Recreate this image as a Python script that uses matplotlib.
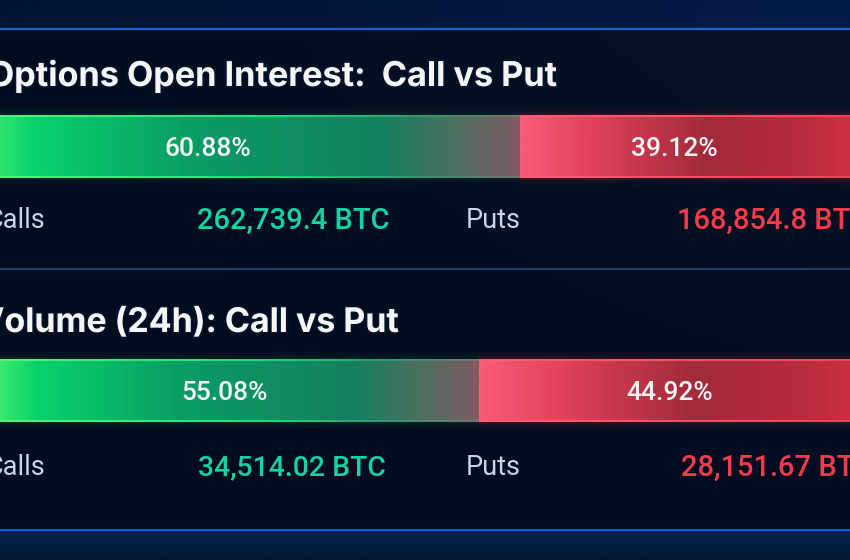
import matplotlib
matplotlib.use('Agg')
import matplotlib.pyplot as plt
import numpy as np
from matplotlib.colors import LinearSegmentedColormap, to_rgb
from matplotlib import patheffects

W, H = 850, 560

titles = ['Options Open Interest:  Call vs Put', 'Volume (24h): Call vs Put']
call_share = [60.88, 55.08]
put_share = [39.12, 44.92]
call_btc = ['262,739.4 BTC', '34,514.02 BTC']
put_btc = ['168,854.8 BTC', '28,151.67 BTC']

GREEN = [(0, '#55f06c'), (0.05, '#2ee36e'), (0.11, '#08d26c'), (0.4, '#0a9d64'),
         (0.75, '#14805f'), (0.88, '#4a7060'), (1, '#805c62')]
RED = [(0, '#f75c78'), (0.2, '#e2425a'), (0.53, '#a22a3a'), (0.8, '#b82c3e'), (1, '#d83244')]
GREEN_EDGE = [(0, '#5cf27a'), (0.55, '#18e07c'), (0.8, '#2f9a74'), (1, '#78706f')]
RED_EDGE = [(0, '#fb5f78'), (1, '#f5404f')]


def bar_image(stops, edge_stops, rows=62, cols=400):
    fill = LinearSegmentedColormap.from_list('f', stops)(np.linspace(0, 1, cols))[:, :3]
    edge = LinearSegmentedColormap.from_list('e', edge_stops)(np.linspace(0, 1, cols))[:, :3]
    img = np.repeat(fill[np.newaxis, :, :], rows, axis=0)
    img[:2] = edge
    img[-2:] = edge
    return img


def draw_bar(fig, call, put, split_px, y_px, bar_w=900, bar_h=63):
    # bar runs past both figure edges, axes placed so the split lands right
    x0 = split_px - call / 100 * bar_w
    ax = fig.add_axes([x0 / W, 1 - (y_px + bar_h) / H, bar_w / W, bar_h / H])
    ax.patch.set_alpha(0)
    ax.set_axis_off()
    left = ax.barh(0, call, height=1, color='none')[0]
    right = ax.barh(0, put, left=call, height=1, color='none')[0]
    im = ax.imshow(bar_image(GREEN, GREEN_EDGE), extent=(0, call, -0.5, 0.5),
                   aspect='auto', interpolation='bilinear')
    im.set_clip_path(left)
    im = ax.imshow(bar_image(RED, RED_EDGE), extent=(call, call + put, -0.5, 0.5),
                   aspect='auto', interpolation='bilinear')
    im.set_clip_path(right)
    ax.set_xlim(0, 100)
    ax.set_ylim(-0.5, 0.5)
    return ax


fig = plt.figure(figsize=(W / 100, H / 100), dpi=100, facecolor='#040e22')

bg = fig.add_axes([0, 0, 1, 1])
bg.set_xlim(0, W)
bg.set_ylim(H, 0)
bg.set_axis_off()

# dark panel, slightly lighter towards the upper right
yy, xx = np.mgrid[0:1:56j, 0:1:85j]
panel = np.zeros((56, 85, 3))
base = np.array(to_rgb('#030c1f'))
tint = np.array(to_rgb('#061226'))
panel[:] = base + (tint - base) * (xx * (1 - yy))[:, :, np.newaxis]
bg.imshow(panel, extent=(0, W, H, 0), aspect='auto', interpolation='bilinear')

# blue bands above and below the panel
top_band = LinearSegmentedColormap.from_list('t', ['#021231', '#021c48'])(np.linspace(0, 1, 85))[:, :3]
bg.imshow(top_band[np.newaxis, :, :], extent=(0, W, 29, 0), aspect='auto', interpolation='bilinear')
bottom_band = LinearSegmentedColormap.from_list('b', ['#03224f', '#021836'])(np.linspace(0, 1, 30))[:, :3]
bg.imshow(bottom_band[:, np.newaxis, :], extent=(0, W, H, 530), aspect='auto',
          interpolation='bilinear', origin='upper')
bg.set_xlim(0, W)
bg.set_ylim(H, 0)

bg.plot([0, W], [29, 29], color='#1a62c8', lw=1.6)
bg.plot([0, W], [269, 269], color='#1c3c66', lw=1.4)
bg.plot([0, W], [530, 530], color='#0b5fd2', lw=1.6)

# soft glow under the bars
for bar_y, split in [(115, 519.5), (359, 479)]:
    for pad, a in [(7, 0.04), (4, 0.05), (2, 0.08)]:
        bg.fill_between([0, split], bar_y - pad, bar_y + 63 + pad, color='#10c070', alpha=a * 0.6, lw=0)
        bg.fill_between([split, W], bar_y - pad, bar_y + 63 + pad, color='#f03548', alpha=a, lw=0)

split_px = [519.5, 479]
bar_top = [115, 359]
for i in range(2):
    draw_bar(fig, call_share[i], put_share[i], split_px[i], bar_top[i])

# texts go on a transparent axes on top of the bars
txt = fig.add_axes([0, 0, 1, 1])
txt.patch.set_alpha(0)
txt.set_axis_off()
txt.set_xlim(0, W)
txt.set_ylim(H, 0)

NUM = 'Roboto'
shadow = [patheffects.withStroke(linewidth=2.5, foreground='#0a1830', alpha=0.5)]

title_right = [557.5, 399]
title_y = [76.5, 323]
title_size = [24.6, 24.4]
pct_x = [[207.5, 674], [224.5, 670]]
pct_y = [149, 393]
row_y = [220.5, 467.5]
call_x = [293, 292]
call_size = [21, 20.4]
put_x = [677, 681]

for i in range(2):
    txt.text(title_right[i], title_y[i], titles[i], ha='right', va='center', color='#f4f6f8',
             fontsize=title_size[i], fontweight='bold', family='Inter', path_effects=shadow)
    txt.text(pct_x[i][0], pct_y[i], '%.2f%%' % call_share[i], ha='center', va='center',
             color='#f4fbf6', fontsize=19, family=NUM, fontweight='medium')
    txt.text(pct_x[i][1], pct_y[i], '%.2f%%' % put_share[i], ha='center', va='center',
             color='#fbf4f5', fontsize=19, family=NUM, fontweight='medium')
    txt.text(45, row_y[i], 'Calls', ha='right', va='center', color='#c8d4e6',
             fontsize=19.5, family=NUM)
    txt.text(493, row_y[i], 'Puts', ha='center', va='center', color='#c8d4e6',
             fontsize=19.5, family=NUM)
    txt.text(call_x[i], row_y[i], call_btc[i], ha='center', va='center', color='#12d3a4',
             fontsize=call_size[i], family=NUM, fontweight='medium')
    txt.text(put_x[i], row_y[i], put_btc[i], ha='left', va='center', color='#f23b4b',
             fontsize=21, family=NUM, fontweight='medium')

fig.savefig('out.png', dpi=100, facecolor=fig.get_facecolor())
